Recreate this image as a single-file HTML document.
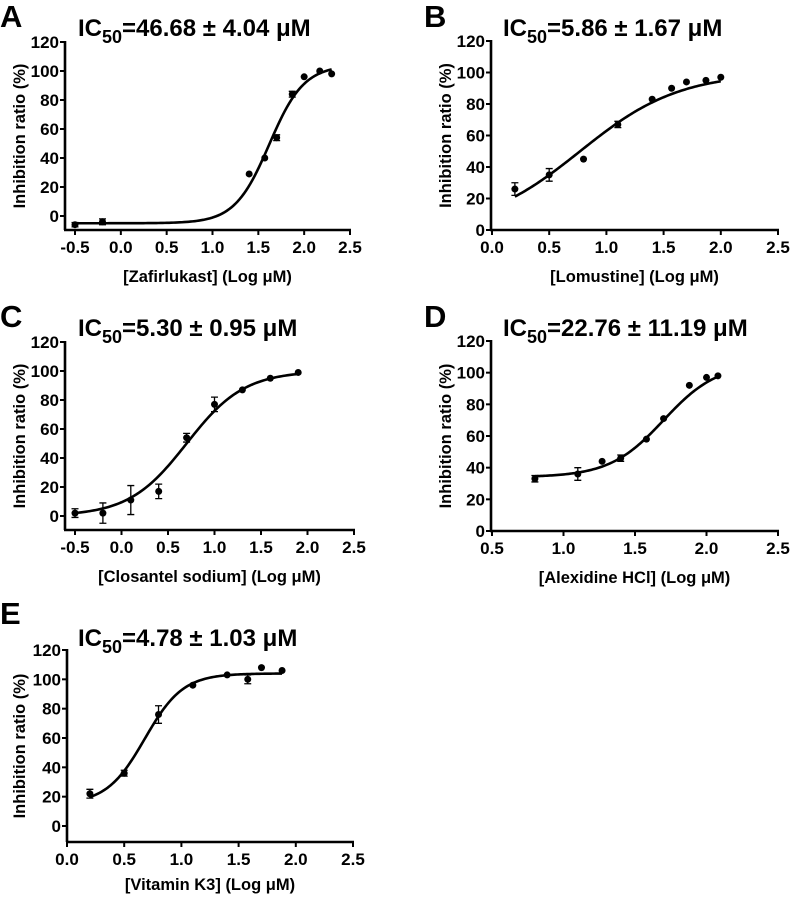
<!DOCTYPE html>
<html><head><meta charset="utf-8"><style>
html,body{margin:0;padding:0;background:#fff}
svg{display:block}
svg text{font-family:"Liberation Sans",Arial,sans-serif;font-weight:700}
</style></head><body>
<svg id="fig" width="792" height="897" viewBox="0 0 792 897" xmlns="http://www.w3.org/2000/svg"></svg>
<script>
// Panel A - Zafirlukast
const aX = [-0.5, -0.2, 1.4, 1.57, 1.7, 1.87, 2.0, 2.17, 2.3];
const aY = [-6, -4, 29, 40, 54, 84, 96, 100, 98];
const aErr = [1.5, 2, 0, 0, 2, 2, 0, 0, 0];
const aFit = [-5, 104, 1.62, 2.3];
// Panel B - Lomustine
const bX = [0.2, 0.5, 0.8, 1.1, 1.4, 1.57, 1.7, 1.87, 2.0];
const bY = [26, 35, 45, 67, 83, 90, 94, 95, 97];
const bErr = [4, 4, 0, 2, 0, 0, 0, 0, 0];
const bFit = [0, 100, 0.77, 1.0];
// Panel C - Closantel sodium
const cX = [-0.5, -0.2, 0.1, 0.4, 0.7, 1.0, 1.3, 1.6, 1.9];
const cY = [2, 2, 11, 17, 54, 77, 87, 95, 99];
const cErr = [3, 7, 10, 5, 3, 5, 0, 0, 0];
const cFit = [0, 100, 0.7, 1.4];
// Panel D - Alexidine HCl
const dX = [0.8, 1.1, 1.27, 1.4, 1.58, 1.7, 1.88, 2.0, 2.08];
const dY = [33, 36, 44, 46, 58, 71, 92, 97, 98];
const dErr = [2, 4, 0, 2, 0, 0, 0, 0, 0];
const dFit = [34, 106, 1.7, 2.3];
// Panel E - Vitamin K3
const eX = [0.2, 0.5, 0.8, 1.1, 1.4, 1.58, 1.7, 1.88];
const eY = [22, 36, 76, 96, 103, 100, 108, 106];
const eErr = [3, 2, 6, 0, 0, 3, 0, 0];
const eFit = [15, 104, 0.68, 2.6];

const yTicks = [0, 20, 40, 60, 80, 100, 120];
const xTicksNeg = [-0.5, 0.0, 0.5, 1.0, 1.5, 2.0, 2.5];
const xTicks0 = [0.0, 0.5, 1.0, 1.5, 2.0, 2.5];
const xTicks05 = [0.5, 1.0, 1.5, 2.0, 2.5];

const NS = "http://www.w3.org/2000/svg";
const svg = document.getElementById('fig');
function mk(tag, attrs, parent) {
  const e = document.createElementNS(NS, tag);
  for (const k in attrs) e.setAttribute(k, attrs[k]);
  if (tag === 'text') e.setAttribute('font-weight', 'bold');
  (parent || svg).appendChild(e);
  return e;
}

function panel(cfg) {
  const g = mk('g', {});
  
  
  const sx = v => cfg.x0 + (v - cfg.xmin) / (cfg.xmax - cfg.xmin) * (cfg.x1 - cfg.x0);
  const sy = v => cfg.y0 - v / 120 * (cfg.y0 - cfg.y120);
  const ax = cfg.axisX, axBottom = cfg.axisY;
  const L = mk('text', {x: cfg.lx, y: cfg.ly, 'font-size': 31}, g);
  L.textContent = cfg.letter;
  
  
  const T = mk('text', {x: cfg.tx, y: cfg.ty, 'font-size': 24}, g);
  
  
  const t1 = mk('tspan', {}, T); t1.textContent = 'IC';
  const t2 = mk('tspan', {dy: 7, 'font-size': 18}, T); t2.textContent = '50';
  const t3 = mk('tspan', {dy: -7}, T); t3.textContent = cfg.title;
  const ya = mk('line', {x1: ax, y1: cfg.y120 - 1, x2: ax, y2: axBottom, stroke: '#000', 'stroke-width': 2.6}, g);
  
  
  const xa = mk('line', {x1: ax - 1, y1: axBottom, x2: sx(cfg.xmax) + 1, y2: axBottom, stroke: '#000', 'stroke-width': 2.6}, g);
  
  
  yTicks.forEach(v => {
    mk('line', {x1: ax - 5, y1: sy(v), x2: ax, y2: sy(v), stroke: '#000', 'stroke-width': 2}, g);
    const t = mk('text', {x: ax - 6, y: sy(v) + 6, 'font-size': 17, 'text-anchor': 'end'}, g);
    t.textContent = v;
    
    
  });
  cfg.xticks.forEach(v => {
    mk('line', {x1: sx(v), y1: axBottom, x2: sx(v), y2: axBottom + 5, stroke: '#000', 'stroke-width': 2}, g);
    const t = mk('text', {x: sx(v), y: axBottom + 23, 'font-size': 17, 'text-anchor': 'middle'}, g);
    t.textContent = v.toFixed(1);
    
    
  });
  const yl = mk('text', {x: 0, y: 0, 'font-size': 16.5, 'text-anchor': 'middle', transform: `translate(${cfg.ylx},${(cfg.y120 + axBottom) / 2}) rotate(-90)`}, g);
  yl.textContent = 'Inhibition ratio (%)';
  
  
  const xl = mk('text', {x: (ax + sx(cfg.xmax)) / 2, y: axBottom + cfg.xlOff, 'font-size': 16.5, 'text-anchor': 'middle'}, g);
  xl.textContent = cfg.xlabel;
  
  
  const f = cfg.fit;
  const fn = x => f[0] + (f[1] - f[0]) / (1 + Math.pow(10, (f[2] - x) * f[3]));
  const xs0 = cfg.px[0], xs1 = cfg.px[cfg.px.length - 1];
  let d = '';
  for (let i = 0; i <= 120; i++) {
    const xv = xs0 + (xs1 - xs0) * i / 120;
    d += (i ? 'L' : 'M') + sx(xv).toFixed(2) + ' ' + sy(fn(xv)).toFixed(2);
  }
  const c = mk('path', {d: d, fill: 'none', stroke: '#000', 'stroke-width': 2.6}, g);
  
  
  cfg.px.forEach((xv, i) => {
    const yv = cfg.py[i], e = cfg.pe[i];
    if (e > 0) {
      const eb = mk('path', {d: `M${sx(xv)} ${sy(yv - e)}V${sy(yv + e)}M${sx(xv) - 3.5} ${sy(yv - e)}h7M${sx(xv) - 3.5} ${sy(yv + e)}h7`, stroke: '#000', 'stroke-width': 1.3, fill: 'none'}, g);
      
      
    }
    const p = mk('circle', {cx: sx(xv), cy: sy(yv), r: 3.5, fill: '#000'}, g);
    
    
  });
}

panel({letter: 'A', lx: 0, ly: 27, tx: 78, ty: 36, title: '=46.68 ± 4.04 μM',
  axisX: 65, axisY: 230, y0: 216, y120: 42, xmin: -0.5, xmax: 2.5, x0: 75, x1: 350,
  xticks: xTicksNeg, ylx: 25, xlOff: 52, xlabel: '[Zafirlukast] (Log μM)', px: aX, py: aY, pe: aErr, fit: aFit});
panel({letter: 'B', lx: 424, ly: 27, tx: 503, ty: 36, title: '=5.86 ± 1.67 μM',
  axisX: 491, axisY: 230, y0: 230, y120: 41, xmin: 0, xmax: 2.5, x0: 492, x1: 778,
  xticks: xTicks0, ylx: 451, xlOff: 52, xlabel: '[Lomustine] (Log μM)', px: bX, py: bY, pe: bErr, fit: bFit});
panel({letter: 'C', lx: 0, ly: 327, tx: 78, ty: 336, title: '=5.30 ± 0.95 μM',
  axisX: 65, axisY: 530, y0: 516, y120: 342, xmin: -0.5, xmax: 2.5, x0: 75, x1: 354,
  xticks: xTicksNeg, ylx: 25, xlOff: 52, xlabel: '[Closantel sodium] (Log μM)', px: cX, py: cY, pe: cErr, fit: cFit});
panel({letter: 'D', lx: 424, ly: 327, tx: 503, ty: 336, title: '=22.76 ± 11.19 μM',
  axisX: 491, axisY: 531, y0: 531, y120: 341, xmin: 0.5, xmax: 2.5, x0: 492, x1: 778,
  xticks: xTicks05, ylx: 451, xlOff: 52, xlabel: '[Alexidine HCl] (Log μM)', px: dX, py: dY, pe: dErr, fit: dFit});
panel({letter: 'E', lx: 0, ly: 624, tx: 78, ty: 646, title: '=4.78 ± 1.03 μM',
  axisX: 67, axisY: 842, y0: 826, y120: 650, xmin: 0, xmax: 2.5, x0: 67, x1: 353,
  xticks: xTicks0, ylx: 25, xlOff: 48, xlabel: '[Vitamin K3] (Log μM)', px: eX, py: eY, pe: eErr, fit: eFit});
</script>
</body></html>
